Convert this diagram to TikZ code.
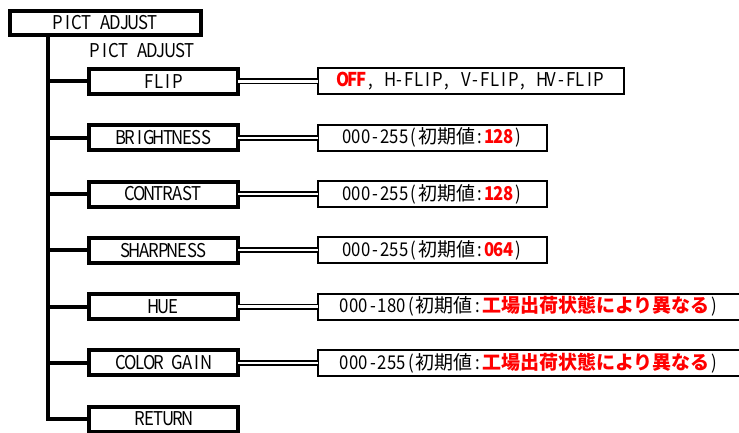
\documentclass[tikz,border=0pt]{standalone}
\usepackage{fontspec}
\setmainfont{Noto Sans CJK JP}
\usepackage{xcolor}
\usepackage{graphicx}
\usepackage{tikz}
\usetikzlibrary{positioning, calc}

\definecolor{valred}{RGB}{255,0,0}
% 半角文字：1文字ずつ固定幅
\ExplSyntaxOn
\NewDocumentCommand{\hw}{m}
  { \str_map_inline:nn {#1} { \makebox[9.5pt]{\scalebox{0.88}[1]{##1}} } }
\ExplSyntaxOff
\newcommand{\hl}[1]{\textcolor{valred}{\bfseries #1}}

\tikzset{
  menubox/.style={draw, line width=4pt, minimum width=149pt, minimum height=25pt,
    inner sep=0pt, outer sep=0pt, anchor=west},
  valbox/.style={draw, line width=2pt, minimum height=26pt, inner sep=0pt,
    outer sep=0pt, anchor=west},
  link/.style={line width=1.8pt, double distance=2.4pt},
  branch/.style={line width=4pt, line join=miter},
  every node/.style={font=\fontsize{19}{21}\selectfont}
}

\begin{document}
\begin{tikzpicture}[x=1pt, y=-1pt]
    \useasboundingbox (0,0) rectangle (739,433);

    % 上：メニュー
    \node[menubox, minimum width=191pt, minimum height=24pt] (pict) at (10,23) {\hw{PICT ADJUST}};
    \node[anchor=west, inner sep=0pt] (pictlabel) at (90,51) {\hw{PICT ADJUST}};
    \coordinate (trunk) at (48,0);

    % 左：項目
    \node[menubox] (flip)     at (89,81.5)   {\hw{FLIP}};
    \node[menubox] (bright)   at (89,137.75) {\hw{BRIGHTNESS}};
    \node[menubox] (contrast) at (89,194)    {\hw{CONTRAST}};
    \node[menubox] (sharp)    at (89,250.25) {\hw{SHARPNESS}};
    \node[menubox] (hue)      at (89,306.5)  {\hw{HUE}};
    \node[menubox] (gain)     at (89,362.75) {\hw{COLOR GAIN}};
    \node[menubox] (ret)      at (89,419)    {\hw{RETURN}};

    % 幹線
    \draw[branch] (pict.south -| trunk) -- (ret.west -| trunk) -- (ret.west);
    \foreach \item in {flip, bright, contrast, sharp, hue, gain}
        \draw[branch] (\item.west -| trunk) -- (\item.west);

    % 右：設定値
    \node[valbox, minimum width=306pt] (vflip) at (318,81.5)
        {\hl{\hw{OFF}}\hw{, H-FLIP, V-FLIP, HV-FLIP}};
    \node[valbox, minimum width=229pt] (vbright) at (318,137.75)
        {\hw{000-255(}初期値\hw{:}\hl{\hw{128}}\hw{)}};
    \node[valbox, minimum width=229pt] (vcontrast) at (318,194)
        {\hw{000-255(}初期値\hw{:}\hl{\hw{128}}\hw{)}};
    \node[valbox, minimum width=229pt] (vsharp) at (318,250.25)
        {\hw{000-255(}初期値\hw{:}\hl{\hw{064}}\hw{)}};
    \node[valbox, minimum width=423pt] (vhue) at (318,306.5)
        {\hw{000-180(}初期値\hw{:}\hl{工場出荷状態により異なる}\hw{)}};
    \node[valbox, minimum width=423pt] (vgain) at (318,362.75)
        {\hw{000-255(}初期値\hw{:}\hl{工場出荷状態により異なる}\hw{)}};

    % 二重線
    \foreach \item in {flip, bright, contrast, sharp, hue, gain}
        \draw[link] (\item.east) -- (v\item.west);
\end{tikzpicture}
\end{document}
